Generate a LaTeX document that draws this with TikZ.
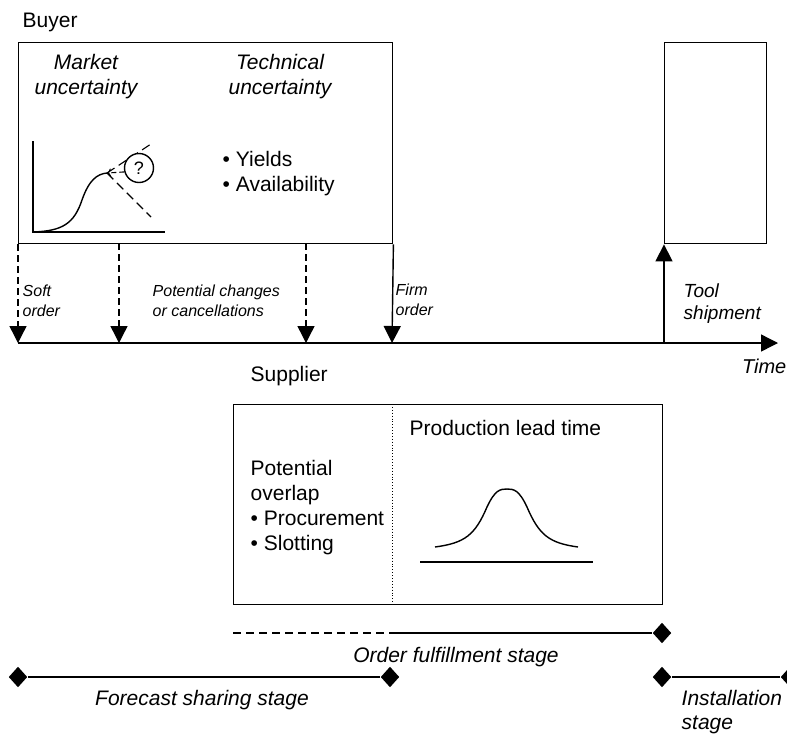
\documentclass[tikz,border=0pt]{standalone}
\usepackage{fontspec}
\setmainfont{Liberation Sans}
\usetikzlibrary{arrows.meta,shapes.geometric}

\begin{document}
\begin{tikzpicture}[x=1pt,y=-1pt,line width=1.4pt,%
  % common options for the boxes:
  box/.style = {draw, anchor=north west, inner sep=0},
  % common options for the texts:
  big/.style = {inner sep=0, align=left, font=\fontsize{21}{25}\selectfont},
  bigit/.style = {inner sep=0, align=center, font=\fontsize{21}{25}\selectfont\itshape},
  note/.style = {inner sep=0, align=left, anchor=west, font=\fontsize{16}{20}\selectfont\itshape},
  % arrows on the time line and stage ends:
  tip/.style = {-{Triangle[width=17pt,length=17pt]}},
  gem/.style = {diamond, fill=black, inner sep=0, minimum width=19pt, minimum height=21pt},
  dsh/.style = {dash pattern=on 7pt off 4pt}]

\useasboundingbox (0,0) rectangle (787,734);

% buyer box and tool box
\node[big,anchor=west] (buyer) at (22,22) {Buyer};
\node[box,minimum width=374pt,minimum height=201pt] (bbox) at (18,42) {};
\node[box,minimum width=102pt,minimum height=201pt] (tbox) at (664,42) {};

\node[bigit] (market) at (86,77) {Market\\uncertainty};
\node[bigit] (tech) at (280,77) {Technical\\uncertainty};
\node[big,anchor=west] (yields) at (222,174)
   {\textbullet\ Yields\\\textbullet\ Availability};

% small market plot
\coordinate (ax) at (33,141);
\coordinate (org) at (33,232);
\coordinate (ay) at (165,232);
\draw (ax) -- (org) -- (ay);
\coordinate (peak) at (107,173);
\draw (org) .. controls (62,231) and (74,224) .. (82,200)
   .. controls (89,180) and (97,174) .. (peak);
\coordinate (up) at (151,144);
\coordinate (down) at (151,217);
\draw[dash pattern=on 9pt off 5pt,line width=1.1pt] (peak) -- (up);
\draw[dash pattern=on 9pt off 5pt,line width=1.1pt] (peak) -- (down);
\node[circle,draw,fill=white,minimum size=29pt,inner sep=0,
   font=\fontsize{18}{20}\selectfont] (q) at (139,168) {?};
\draw[dash pattern=on 5pt off 3pt,line width=1.1pt,->] (q.195) -- (peak);

% time line
\coordinate (t0) at (18,343);
\coordinate (t1) at (119,343);
\coordinate (t2) at (306,343);
\coordinate (t3) at (392,343);
\coordinate (t4) at (664,343);
\coordinate (tend) at (778,343);
\draw[tip] (t0) -- (tend);
\node[anchor=east,inner sep=0,font=\fontsize{20}{24}\selectfont\itshape]
   (time) at (787,366) {Time};

% order arrows from the buyer box
\coordinate (c1) at (119,243);
\coordinate (c2) at (306,243);
\draw[dsh,tip] (bbox.south west) -- (t0);
\draw[dsh,tip] (c1) -- (t1);
\draw[dsh,tip] (c2) -- (t2);
\draw[tip] (bbox.south east) -- (t3);
\draw[tip] (t4) -- (tbox.south west);

\node[note] (soft) at (22,301) {Soft\\order};
\node[note] (change) at (152,301) {Potential changes\\or cancellations};
\node[note] (firm) at (395,300) {Firm\\order};
\node[note,font=\fontsize{19}{22}\selectfont\itshape] (ship) at (683,304)
   {Tool\\shipment};

% supplier box
\node[big,anchor=west] (supplier) at (250,376) {Supplier};
\node[box,minimum width=429pt,minimum height=200pt] (sbox) at (233,404) {};
\coordinate (sp) at (392,404);
\coordinate (sq) at (392,604);
\draw[dotted,line width=0.9pt] (sp) -- (sq);

\node[big,anchor=west] (lead) at (409,428) {Production lead time};
\node[big,anchor=west] (overlap) at (250,508)
   {Potential\\overlap\\\textbullet\ Procurement\\\textbullet\ Slotting};

% lead time curve
\coordinate (b0) at (420,562);
\coordinate (b1) at (593,562);
\draw (b0) -- (b1);
\coordinate (l0) at (435,547);
\coordinate (l1) at (578,547);
\draw (l0) .. controls (465,543) and (475,535) .. (487,507)
   .. controls (495,490) and (500,489) .. (507,489)
   .. controls (514,489) and (519,490) .. (527,507)
   .. controls (539,535) and (549,543) .. (l1);

% stages
\coordinate (o0) at (233,633);
\coordinate (o1) at (392,633);
\node[gem] (oend) at (662,633) {};
\draw[dash pattern=on 8pt off 5pt] (o0) -- (o1);
\draw (o1) -- (oend);
\node[bigit] (ostage) at (456,657) {Order fulfillment stage};

\node[gem] (f0) at (18,677) {};
\node[gem] (f1) at (390,677) {};
\draw (f0) -- (f1);
\node[bigit] (fstage) at (202,700) {Forecast sharing stage};

\node[gem] (i0) at (662,677) {};
\node[gem] (i1) at (790,677) {};
\draw (i0) -- (i1);
\node[big,anchor=west,font=\fontsize{21}{24}\selectfont\itshape] (istage)
   at (681,712) {Installation\\stage};
\end{tikzpicture}
\end{document}
